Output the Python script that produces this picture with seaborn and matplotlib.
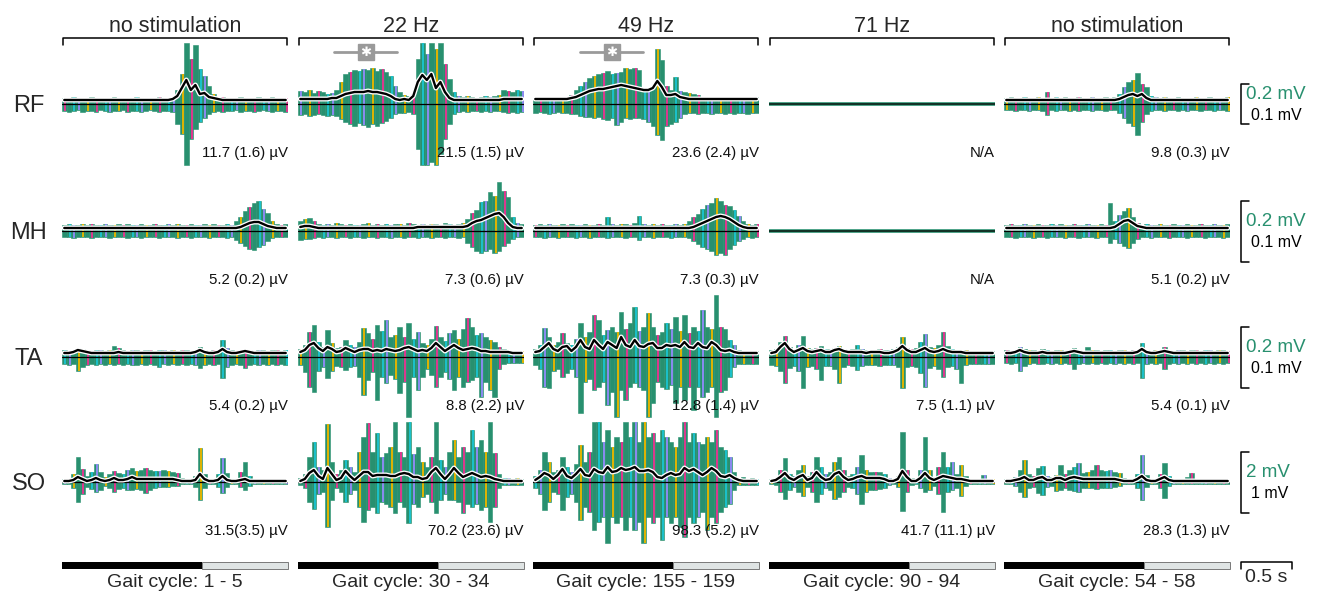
import matplotlib
matplotlib.use("Agg")
import matplotlib.pyplot as plt
import matplotlib.patheffects as pe
import numpy as np
import seaborn as sns

# trace amplitudes per 50 time bins, in units where the row's scale bar
# (0.2 mV raw / 0.1 mV envelope, SO: 2 mV / 1 mV) is bar_len long
muscles = ["RF", "MH", "TA", "SO"]
conditions = ["no stimulation", "22 Hz", "49 Hz", "71 Hz", "no stimulation"]
gait_labels = ["Gait cycle: 1 - 5", "Gait cycle: 30 - 34", "Gait cycle: 155 - 159",
               "Gait cycle: 90 - 94", "Gait cycle: 54 - 58"]
stance_frac = [0.62, 0.62, 0.62, 0.62, 0.62]
window_s = 2.26
bar_len = [40, 61, 61, 61]
bar_raw = ["0.2 mV", "0.2 mV", "0.2 mV", "2 mV"]
bar_env = ["0.1 mV", "0.1 mV", "0.1 mV", "1 mV"]
sig_spans = {1: (0.36, 0.99), 2: (0.47, 1.10)}

rf_vals = ["11.7 (1.6) µV", "21.5 (1.5) µV", "23.6 (2.4) µV", "N/A", "9.8 (0.3) µV"]
mh_vals = ["5.2 (0.2) µV", "7.3 (0.6) µV", "7.3 (0.3) µV", "N/A", "5.1 (0.2) µV"]
ta_vals = ["5.4 (0.2) µV", "8.8 (2.2) µV", "12.8 (1.4) µV", "7.5 (1.1) µV", "5.4 (0.1) µV"]
so_vals = ["31.5(3.5) µV", "70.2 (23.6) µV", "98.3 (5.2) µV", "41.7 (11.1) µV", "28.3 (1.3) µV"]

rf_top = [
    [6,5,7,6,5,6,7,5,6,6, 5,7,6,6,5,6,7,6,5,6, 6,7,6,6,7,14,30,61,45,59, 35,28,18,10,6,7,6,5,6,7, 6,6,5,7,6,6,7,6,5,6],
    [13,12,14,11,13,12,10,11,14,22, 30,32,34,33,35,34,36,33,35,32, 28,18,12,9,8,10,45,61,50,61, 55,61,40,25,12,8,7,8,7,6, 7,8,7,8,9,14,13,12,14,13],
    [6,7,6,5,6,7,6,6,9,14, 18,22,26,28,30,31,33,30,31,32, 36,35,36,34,15,14,16,55,44,18, 14,27,13,12,11,10,9,7,6,7, 7,6,7,6,7,7,6,7,6,7],
    None,
    [6,7,6,6,7,6,6,7,6,12, 6,7,6,7,6,6,7,6,6,7, 6,6,7,6,7,10,17,22,24,31, 20,17,8,7,6,7,6,6,7,6, 6,6,7,6,6,7,6,6,6,7],
]
rf_bot = [
    [7,8,7,6,8,7,7,8,6,7, 8,7,7,6,8,7,7,8,7,6, 7,8,7,7,8,20,30,61,35,25, 18,14,10,8,7,8,7,7,6,8, 7,7,8,7,6,7,8,7,7,8],
    [11,10,12,11,10,11,12,11,12,15, 18,20,22,19,21,23,20,22,19,17, 14,10,9,9,8,10,45,61,61,58, 61,50,35,20,10,8,7,8,7,7, 8,7,8,7,7,8,9,8,9,8],
    [9,8,9,10,9,8,9,9,10,10, 12,13,13,14,13,15,16,14,21,18, 14,15,14,14,15,18,22,31,36,22, 20,18,14,10,9,9,10,9,9,10, 9,9,10,9,10,9,9,10,9,9],
    None,
    [6,6,7,6,6,7,6,6,7,11, 6,7,6,6,7,6,7,6,6,7, 6,6,7,6,6,9,14,19,22,31, 18,10,7,6,6,7,6,6,7,6, 7,6,6,7,6,6,7,6,6,7],
]
rf_env = [
    [4,4,4,4,4,4,4,4,4,4, 4,4,4,4,4,4,4,4,4,4, 4,4,4,4,5,8,16,24,14,19, 10,11,7,6,5,4,4,4,4,4, 4,4,4,4,4,4,4,4,4,4],
    [5,5,5,5,5,5,5,6,6,8, 10,11,12,12,12,13,12,12,11,10, 8,5,4,5,4,8,22,29,24,30, 16,22,12,6,4,4,4,4,4,4, 4,4,4,4,4,5,5,5,5,5],
    [5,5,5,5,5,5,5,5,6,7, 9,11,13,14,15,15,16,17,18,19, 18,17,16,15,14,14,16,23,17,9, 9,10,7,6,5,5,5,5,5,5, 5,5,5,5,5,5,5,5,5,5],
    None,
    [4,4,4,4,4,4,4,4,4,4, 4,4,4,4,4,4,4,4,4,4, 4,4,4,4,4,5,7,9,10,8, 10,6,4,4,4,4,4,4,4,4, 4,4,4,4,4,4,4,4,4,4],
]

mh_top = [
    [6,7,6,6,7,6,7,6,6,7, 6,6,7,6,7,6,6,7,6,6, 7,6,6,7,6,7,6,6,7,6, 6,7,6,7,6,6,7,6,10,14, 20,24,28,30,22,18,10,7,6,7],
    [10,12,13,10,7,6,7,6,8,7, 6,7,6,6,7,8,6,7,6,7, 6,7,7,6,8,7,6,7,6,7, 7,6,8,7,6,7,8,12,18,21, 29,30,39,35,49,40,34,14,8,7],
    [6,7,6,7,6,6,7,6,7,6, 6,7,6,6,7,6,14,7,6,7, 7,6,8,15,7,6,7,6,7,6, 6,7,6,7,10,14,17,22,26,28, 33,30,26,25,21,15,10,7,6,7],
    None,
    [6,7,6,6,7,6,6,7,6,6, 7,6,7,6,6,7,6,6,7,6, 6,7,6,28,10,16,20,23,14,8, 6,7,6,6,7,6,6,7,6,6, 7,6,6,7,6,6,7,6,6,7],
]
mh_bot = [
    [6,6,7,6,6,6,7,6,6,6, 7,6,6,6,7,6,6,7,6,6, 6,7,6,6,6,7,6,6,7,6, 6,6,7,6,6,6,7,6,9,12, 15,18,19,16,14,10,7,6,6,6],
    [9,8,8,7,6,7,6,6,7,6, 6,7,6,6,7,6,6,7,6,6, 7,6,6,7,6,6,7,6,6,7, 6,6,7,6,6,7,6,12,16,20, 22,20,18,22,20,15,12,8,6,6],
    [6,6,7,6,6,7,6,6,6,7, 6,6,7,6,6,6,7,6,6,6, 7,6,6,9,6,6,7,6,6,6, 7,6,6,6,7,10,13,16,18,20, 24,22,24,18,14,10,8,6,7,6],
    None,
    [6,6,7,6,6,6,7,6,6,7, 6,6,6,7,6,6,7,6,6,6, 7,6,6,12,8,12,15,17,12,8, 6,6,7,6,6,6,7,6,6,6, 7,6,6,6,7,6,6,6,7,6],
]
mh_env = [
    [3,3,3,3,3,3,3,3,3,3, 3,3,3,3,3,3,3,3,3,3, 3,3,3,3,3,3,3,3,3,3, 3,3,3,3,3,3,3,3,3,4, 6,8,9,9,7,5,4,3,3,3],
    [4,5,5,4,3,3,3,3,3,3, 3,3,3,3,3,3,3,3,3,3, 3,3,3,3,3,3,4,4,4,4, 4,4,4,4,4,4,4,5,8,10, 11,13,15,17,18,14,8,4,3,3],
    [3,3,3,3,3,3,3,3,3,3, 3,3,3,3,3,3,3,3,3,3, 3,3,3,3,3,3,3,3,3,3, 3,3,3,3,3,4,6,8,10,12, 14,15,14,12,9,6,4,3,3,3],
    None,
    [3,3,3,3,3,3,3,3,3,3, 3,3,3,3,3,3,3,3,3,3, 3,3,3,3,4,7,10,11,8,5, 4,3,3,3,3,3,3,3,3,3, 3,3,3,3,3,3,3,3,3,3],
]

ta_top = [
    [7,6,7,9,8,7,6,7,7,6, 7,11,9,7,6,7,7,6,7,7, 6,7,7,6,7,6,7,7,6,7, 10,7,6,7,7,17,9,7,6,7, 8,7,6,7,7,6,7,7,6,7],
    [8,12,25,32,15,10,27,14,9,10, 17,12,10,15,29,24,18,32,26,37, 20,22,30,20,34,18,25,14,12,18, 31,20,16,24,27,18,28,39,30,22, 24,20,17,15,10,8,7,6,6,6],
    [8,12,29,20,12,15,24,14,12,18, 34,20,25,42,37,22,27,30,25,45, 28,34,50,26,30,44,30,22,25,34, 28,40,26,42,24,30,26,47,30,28, 62,30,28,17,12,7,6,6,6,6],
    [7,8,15,21,10,8,12,21,9,8, 9,11,8,8,9,11,8,7,8,12, 8,7,7,7,8,7,7,8,10,20, 9,8,9,15,23,10,9,12,25,11, 8,7,7,7,6,6,6,6,6,6],
    [7,6,7,10,8,7,7,6,8,7, 6,7,7,6,7,9,7,6,10,7, 7,6,7,7,6,7,7,6,7,7, 14,7,6,7,7,10,7,6,7,7, 6,7,7,6,7,7,6,7,7,6],
]
ta_bot = [
    [7,8,7,14,10,8,7,8,7,8, 7,8,7,8,7,8,8,7,8,7, 8,10,7,8,7,8,7,8,7,8, 11,8,7,8,7,21,10,8,7,8, 11,8,7,8,7,8,7,8,7,8],
    [8,15,30,35,14,10,21,14,9,10, 13,10,9,20,38,23,15,43,20,26, 18,22,36,25,60,20,33,20,12,18, 30,20,15,22,33,20,30,25,23,20, 40,25,33,40,12,7,6,6,6,6],
    [8,12,30,31,14,12,20,16,12,20, 56,25,22,33,30,25,48,35,60,33, 43,30,26,30,33,60,46,25,30,32, 28,46,30,43,30,53,30,40,35,30, 60,35,33,20,10,7,7,7,7,7],
    [8,9,14,26,11,9,14,31,10,9, 12,23,9,9,12,26,10,8,9,13, 9,8,8,8,9,8,8,8,10,31, 10,9,10,16,30,11,9,12,20,10, 9,12,26,8,7,7,7,7,7,7],
    [6,7,6,14,9,7,6,7,7,6, 7,6,7,6,7,12,7,6,7,6, 7,6,7,6,7,6,7,6,7,6, 21,7,6,7,6,12,7,6,7,6, 7,6,7,6,7,6,7,6,7,6],
]
ta_env = [
    [4,4,5,7,6,5,4,4,4,4, 4,4,5,4,4,4,4,4,4,4, 4,4,4,4,4,4,4,4,4,5, 7,5,4,4,5,8,5,4,4,5, 6,5,4,4,4,4,4,4,4,4],
    [5,7,12,14,9,6,10,8,5,6, 9,7,5,7,8,8,6,7,6,8, 7,6,7,9,10,8,6,7,6,9, 14,10,6,9,12,9,7,8,9,8, 6,6,5,5,5,5,5,4,4,4],
    [5,6,10,14,8,6,10,11,6,10, 17,10,8,17,12,8,15,12,9,20, 12,10,17,11,10,13,14,9,9,12, 11,12,10,15,10,9,14,10,9,15, 12,7,6,7,5,4,4,4,4,4],
    [4,5,10,14,8,5,7,9,6,5, 6,7,5,5,7,8,6,5,5,5, 5,4,5,5,5,4,4,5,7,11, 7,5,5,7,9,6,5,6,8,6, 5,5,5,4,4,4,4,4,4,4],
    [4,4,5,7,5,4,4,4,5,4, 4,4,4,4,5,6,5,4,4,4, 4,4,4,4,4,4,4,4,4,5, 8,5,4,4,5,6,5,4,4,4, 4,4,4,4,4,4,4,4,4,4],
]

so_top = [
    [3,3,8,25,13,6,10,18,10,5, 8,11,9,8,12,14,11,12,14,12, 11,11,12,11,10,9,4,3,3,6, 34,8,3,3,8,24,9,3,3,10, 20,6,3,2,2,2,2,2,2,2],
    [4,8,25,40,15,12,58,20,8,12, 22,15,10,30,45,59,30,49,25,29, 35,60,30,25,60,28,35,20,15,25, 60,22,15,30,42,25,35,30,52,35, 42,30,60,29,8,4,4,3,4,3],
    [6,12,30,20,10,12,25,15,10,18, 37,20,30,60,60,40,52,35,45,40, 60,45,60,40,60,45,49,40,52,45, 40,35,45,60,40,49,40,38,45,40, 52,35,32,25,10,4,5,3,4,3],
    [3,4,12,24,8,6,12,17,6,10, 25,15,8,10,20,25,12,6,8,15, 27,12,10,10,10,8,4,3,6,50, 12,4,3,12,45,12,5,15,30,15, 20,8,17,6,3,3,3,7,3,3],
    [3,3,5,12,22,8,6,14,16,6, 5,7,17,8,12,15,19,9,10,12, 17,12,11,12,10,9,4,3,3,8, 27,7,3,3,8,19,6,3,3,3, 5,9,3,3,2,3,2,3,2,2],
]
so_bot = [
    [2,2,6,20,12,5,7,10,8,4, 6,10,7,6,8,8,7,8,11,8, 6,5,5,5,4,4,2,2,2,5, 18,6,2,2,5,11,5,2,2,5, 8,4,2,2,2,2,2,2,2,2],
    [3,6,20,27,12,10,45,18,6,10, 20,12,8,25,40,28,25,31,20,22, 25,31,20,25,41,22,25,15,12,20, 31,18,12,18,18,20,31,22,25,22, 28,25,40,25,6,3,3,3,3,3],
    [6,12,28,20,10,12,28,15,12,20, 38,25,30,48,40,35,61,35,41,35, 48,35,48,40,61,35,41,35,58,35, 41,35,45,55,35,41,35,30,48,35, 41,30,25,22,8,3,3,3,3,3],
    [2,3,10,17,8,5,10,14,5,10, 20,12,6,8,17,15,10,5,6,12, 22,10,8,8,7,6,3,2,5,29, 10,3,2,6,10,8,4,12,30,10, 8,6,14,4,2,2,2,2,2,2],
    [2,2,4,10,15,6,5,11,13,5, 4,9,8,6,8,9,10,6,6,6, 7,6,6,6,5,4,2,2,2,6, 18,5,2,2,6,16,4,2,2,2, 2,2,2,2,2,2,2,2,2,2],
]
so_env = [
    [1,1,2,5,3,1,2,4,2,1, 2,4,2,2,3,5,3,3,3,3, 3,3,3,3,3,2,1,1,1,2, 8,3,1,1,2,6,2,1,1,2, 3,1,1,1,1,1,1,1,1,1],
    [1,3,9,12,6,3,14,8,2,4, 11,6,2,6,10,10,6,7,7,7, 6,6,8,9,8,5,5,3,4,10, 14,8,3,8,14,9,5,7,9,7, 5,6,5,3,2,1,1,1,1,1],
    [2,5,9,7,3,7,13,6,4,8, 13,7,6,13,10,9,15,10,11,14, 12,13,15,11,11,12,10,5,4,7, 9,7,8,14,11,13,10,7,10,14, 11,6,5,7,4,2,1,1,1,1],
    [1,2,5,9,4,2,5,7,2,4, 10,5,2,3,8,10,5,2,3,5, 6,4,4,4,4,3,1,1,3,11, 5,1,1,4,9,4,2,4,6,5, 4,3,3,2,1,1,1,1,1,1],
    [1,1,2,3,5,2,2,4,5,2, 2,4,4,2,4,5,4,3,3,3, 3,3,3,3,3,2,1,1,1,3, 6,2,1,1,3,5,2,1,1,1, 1,1,1,1,1,1,1,1,1,1],
]

tops = [rf_top, mh_top, ta_top, so_top]
bots = [rf_bot, mh_bot, ta_bot, so_bot]
envs = [rf_env, mh_env, ta_env, so_env]
vals = [rf_vals, mh_vals, ta_vals, so_vals]

GREEN = "#28906f"
PINK = "#e0378f"
PURPLE = "#8c8af2"
YELLOW = "#e2b400"
CYAN = "#1bc2cb"
spike_cycle = [PINK, GREEN, CYAN, PURPLE, GREEN, YELLOW, GREEN]

sns.set_theme(style="white")
plt.rcParams["font.family"] = ["Liberation Sans", "DejaVu Sans"]

W, H = 1320, 594
fig = plt.figure(figsize=(13.2, 5.94), dpi=100)
fig.patch.set_facecolor("white")

col_x = [62, 298, 533, 769, 1004]
row_zero = [104, 231, 357, 482]
pw = 226
half = 70
nb = 50
dt = window_s / nb
t = (np.arange(nb) + 0.5) * dt
env_fx = [pe.Stroke(linewidth=3.6, foreground="white"), pe.Normal()]

for r in range(4):
    for c in range(5):
        ax = fig.add_axes([col_x[c] / W, 1 - (row_zero[r] + half) / H, pw / W, 2 * half / H])
        ax.set_xlim(0, window_s)
        ax.set_ylim(-half, half)
        ax.axis("off")
        ax.patch.set_alpha(0)

        top = tops[r][c]
        if top is None:
            ax.axhline(0, color=GREEN, lw=2.6, zorder=2)
            ax.axhline(0, color="#102a20", lw=1.3, zorder=3)
        else:
            top = np.array(top)
            bot = np.array(bots[r][c])
            env = np.array(envs[r][c])
            ax.bar(t, top + bot, bottom=-bot, width=dt, color=GREEN, edgecolor=GREEN,
                   lw=0.4, zorder=1)
            for i in range(nb):
                col = spike_cycle[(i + 3 * c + r) % len(spike_cycle)]
                if col != GREEN:
                    ax.vlines(t[i] + dt * 0.2, -bot[i], top[i], colors=col, lw=1.4, zorder=2)
            ax.axhline(0, color="black", lw=0.9, zorder=3)
            sns.lineplot(x=t, y=env, ax=ax, color="black", lw=1.7, zorder=4,
                         path_effects=env_fx, legend=False)

        ax.text(window_s, -49, vals[r][c], ha="right", va="center", fontsize=10.8, color="#111111")

        if r == 0:
            ax.plot([0.01, 0.01, window_s - 0.01, window_s - 0.01], [59, 66, 66, 59],
                    color="black", lw=1.1, clip_on=False)
            ax.text(window_s / 2, 72, conditions[c], ha="center", va="baseline", fontsize=15.5)
            if c in sig_spans:
                x0, x1 = sig_spans[c]
                xm = (x0 + x1) / 2
                ax.plot([x0, x1], [52, 52], color="#9a9a9a", lw=2.0, clip_on=False, zorder=5)
                ax.add_patch(plt.Rectangle((xm - 0.08, 44), 0.16, 16, color="#9a9a9a",
                                           clip_on=False, zorder=6))
                ax.text(xm, 51, "\u2731", ha="center", va="center", color="white",
                        fontsize=9.5, family="DejaVu Sans", zorder=7)
        if c == 0:
            ax.text(-0.33, -2, muscles[r], ha="center", va="center", fontsize=17)
        if c == 4:
            h = bar_len[r] / 2
            ax.plot([2.45, 2.37, 2.37, 2.45], [h, h, -h, -h], color="black", lw=1.1, clip_on=False)
            ax.text(2.42, 9.5, bar_raw[r], ha="left", va="center", fontsize=13.5, color=GREEN)
            ax.text(2.47, -11.5, bar_env[r], ha="left", va="center", fontsize=11.5, color="black")
        if r == 3:
            f = stance_frac[c]
            ax.barh(-83.5, f * window_s, height=7, left=0, color="black", lw=0, clip_on=False)
            ax.barh(-83.5, (1 - f) * window_s, height=7, left=f * window_s, color="#dfe4e4",
                    edgecolor="#666666", lw=0.6, clip_on=False)
            ax.text(window_s / 2, -100.5, gait_labels[c], ha="center", va="center", fontsize=14)
            if c == 4:
                ax.plot([2.37, 2.37, 2.88, 2.88], [-87, -80, -80, -87], color="black", lw=1.1,
                        clip_on=False)
                ax.text(2.625, -96, "0.5 s", ha="center", va="center", fontsize=14)

fig.savefig("out.png", dpi=100, facecolor="white")
